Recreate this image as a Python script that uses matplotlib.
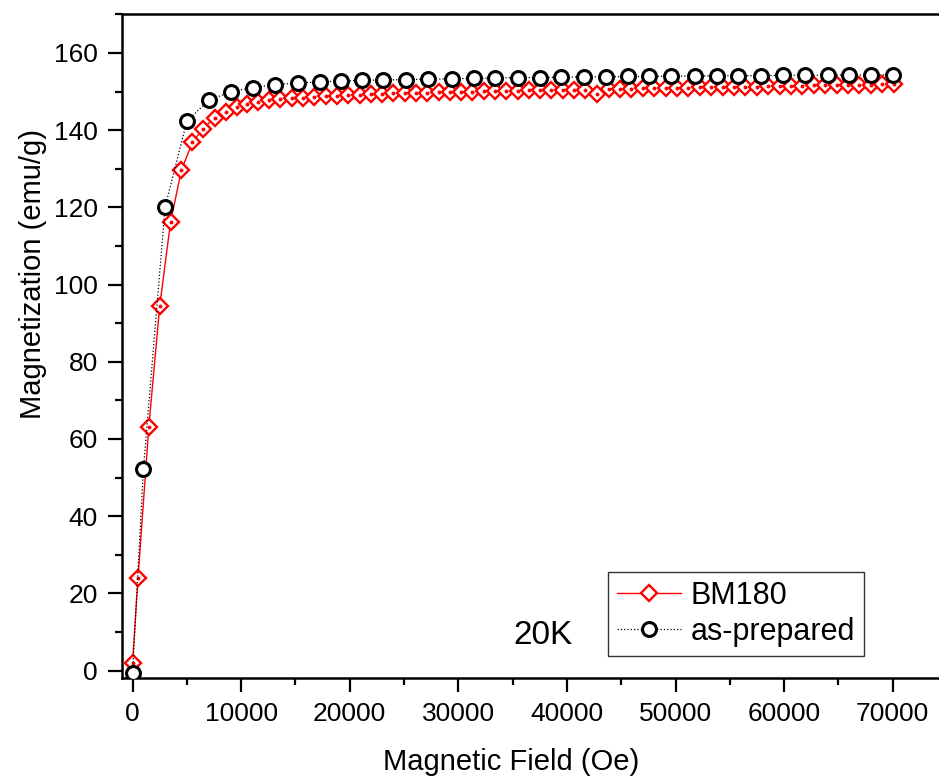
import matplotlib
matplotlib.use("Agg")
import matplotlib.pyplot as plt
from matplotlib.ticker import MultipleLocator

plt.rcParams['font.family'] = ['Liberation Sans', 'DejaVu Sans']

# BM180 (red diamonds)
bm_field = [0, 500, 1500, 2500, 3500, 4500, 5500, 6500, 7550, 8560, 9580, 10550, 11540,
            12580, 13620, 14660, 15700, 16740, 17780, 18820, 19860, 20900, 21940,
            22980, 24020, 25060, 26100, 27140, 28180, 29220, 30260, 31300, 32340,
            33380, 34420, 35460, 36500, 37540, 38580, 39620, 40660, 41700, 42780,
            43830, 44880, 45930, 46980, 48030, 49080, 50130, 51180, 52230, 53280,
            54330, 55380, 56430, 57480, 58530, 59580, 60630, 61680, 62730, 63780,
            64830, 65880, 66930, 67980, 69030, 70100]
bm_mag = [1.9, 23.9, 63.2, 94.4, 116.2, 129.6, 136.8, 140.4, 143.2, 144.8, 145.9, 146.8, 147.3,
          147.7, 148.0, 148.2, 148.4, 148.6, 148.8, 148.9, 149.0, 149.2, 149.3,
          149.4, 149.5, 149.5, 149.6, 149.7, 149.8, 149.9, 149.9, 150.0, 150.1,
          150.1, 150.2, 150.2, 150.3, 150.3, 150.4, 150.4, 150.5, 150.5, 149.4,
          150.6, 150.7, 150.7, 150.8, 150.9, 150.9, 151.0, 151.0, 151.1, 151.1,
          151.2, 151.2, 151.3, 151.3, 151.4, 151.4, 151.5, 151.5, 151.6, 151.6,
          151.7, 151.7, 151.8, 151.8, 151.9, 151.9]

# as-prepared (black circles)
ap_field = [0, 1000, 3000, 5000, 7000, 9100, 11100, 13100, 15200, 17300, 19200, 21100,
            23100, 25200, 27200, 29400, 31400, 33400, 35500, 37500, 39500, 41600,
            43600, 45600, 47600, 49600, 51800, 53800, 55800, 57900, 59900, 61900,
            64000, 66000, 68000, 70000]
ap_mag = [-0.5, 52.2, 120.1, 142.3, 147.7, 150.0, 151.0, 151.8, 152.2, 152.5, 152.7, 152.9,
          153.0, 153.1, 153.2, 153.3, 153.4, 153.5, 153.6, 153.6, 153.7, 153.8,
          153.8, 153.9, 153.9, 154.0, 154.0, 154.1, 154.1, 154.1, 154.2, 154.2,
          154.2, 154.3, 154.3, 154.3]

fig = plt.figure(figsize=(9.39, 7.82), dpi=100)
ax = fig.add_axes([0.1296, 0.1326, 1.0085 - 0.1296, 0.9817 - 0.1326])

ax.plot(bm_field, bm_mag, color='red', lw=1.0, marker='D', ms=8.5,
        mfc='white', mec='red', mew=1.7, label='BM180', zorder=3)
ax.plot(bm_field, bm_mag, ls='none', marker='o', ms=1.8, color='red', zorder=3.5)
ax.plot(ap_field, ap_mag, color='black', lw=0.9, ls=':', marker='o', ms=10,
        mfc='white', mec='black', mew=2.2, label='as-prepared', zorder=4)

ax.set_xlim(-1000, 75000)
ax.set_ylim(-2, 170)
ax.xaxis.set_major_locator(MultipleLocator(10000))
ax.xaxis.set_minor_locator(MultipleLocator(5000))
ax.yaxis.set_minor_locator(MultipleLocator(10))
ax.set_yticks([0, 20, 40, 60, 80, 100, 120, 140, 160])

for s in ['left', 'bottom', 'top']:
    ax.spines[s].set_linewidth(1.8)
ax.spines['right'].set_visible(False)

ax.tick_params(which='major', direction='out', length=10, width=1.6, labelsize=19)
ax.tick_params(axis='x', which='major', pad=7)
ax.tick_params(axis='y', which='major', pad=7)
ax.tick_params(which='minor', direction='out', length=5, width=1.6)
ax.tick_params(top=False, right=False, which='both')

ax.set_xlabel('Magnetic Field (Oe)', fontsize=21, va='top')
ax.set_ylabel('Magnetization (emu/g)', fontsize=21)
ax.xaxis.set_label_coords(0.4717, -0.105)
ax.yaxis.set_label_coords(-0.091, 0.609)

ax.text(543 / 939, 1 - 636 / 782, '20K', transform=fig.transFigure, fontsize=24,
        ha='center', va='center')

leg = ax.legend(loc='upper left', bbox_to_anchor=(0.647, 0.269),
                bbox_transform=fig.transFigure, fontsize=22, numpoints=1,
                handlelength=2.1, handletextpad=0.33, borderpad=0.3,
                labelspacing=0.2, fancybox=False, framealpha=1,
                edgecolor='#333333', borderaxespad=0)
leg.get_frame().set_linewidth(1.0)

fig.savefig('out.png', dpi=100)
